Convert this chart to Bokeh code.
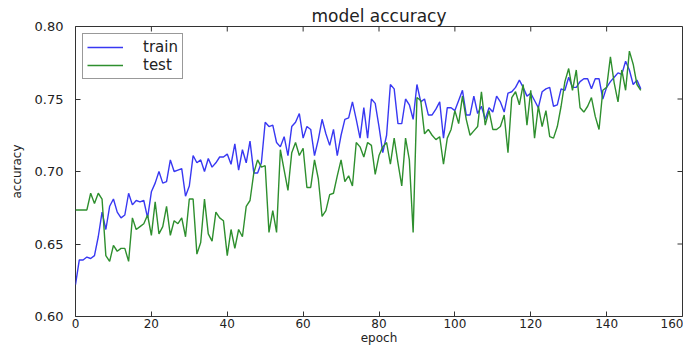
import math
from bokeh.plotting import figure
from bokeh.models import FixedTicker, PrintfTickFormatter
from bokeh.embed import file_html
from bokeh.resources import INLINE

epochs = list(range(150))

train = [
    0.622, 0.639, 0.639, 0.641, 0.640, 0.642, 0.655, 0.672, 0.660, 0.676,
    0.681, 0.672, 0.668, 0.670, 0.685, 0.677, 0.680, 0.679, 0.680, 0.668,
    0.686, 0.692, 0.700, 0.692, 0.693, 0.708, 0.700, 0.701, 0.702, 0.683,
    0.690, 0.711, 0.706, 0.708, 0.700, 0.709, 0.703, 0.706, 0.710, 0.710,
    0.712, 0.705, 0.719, 0.701, 0.715, 0.706, 0.721, 0.699, 0.699, 0.706,
    0.734, 0.731, 0.732, 0.720, 0.717, 0.724, 0.711, 0.731, 0.734, 0.740,
    0.723, 0.731, 0.729, 0.711, 0.722, 0.736, 0.726, 0.718, 0.729, 0.711,
    0.725, 0.736, 0.737, 0.748, 0.736, 0.723, 0.744, 0.723, 0.750, 0.747,
    0.731, 0.713, 0.725, 0.760, 0.757, 0.733, 0.733, 0.750, 0.746, 0.736,
    0.760, 0.748, 0.750, 0.739, 0.739, 0.743, 0.748, 0.723, 0.744, 0.744,
    0.742, 0.749, 0.756, 0.739, 0.739, 0.752, 0.740, 0.745, 0.736, 0.744,
    0.741, 0.752, 0.748, 0.741, 0.754, 0.755, 0.758, 0.763, 0.758, 0.752,
    0.754, 0.749, 0.744, 0.755, 0.757, 0.758, 0.745, 0.746, 0.757, 0.756,
    0.765, 0.758, 0.758, 0.762, 0.764, 0.764, 0.757, 0.764, 0.764, 0.750,
    0.758, 0.762, 0.765, 0.768, 0.767, 0.776, 0.770, 0.760, 0.763, 0.757,
]

test = [
    0.6735, 0.6735, 0.6735, 0.6735, 0.685, 0.678, 0.685, 0.681, 0.642, 0.638,
    0.649, 0.645, 0.647, 0.647, 0.638, 0.668, 0.660, 0.662, 0.664, 0.670,
    0.656, 0.679, 0.657, 0.662, 0.676, 0.656, 0.666, 0.664, 0.668, 0.655,
    0.681, 0.681, 0.643, 0.651, 0.681, 0.657, 0.652, 0.672, 0.668, 0.666,
    0.642, 0.660, 0.647, 0.660, 0.655, 0.676, 0.680, 0.699, 0.708, 0.703,
    0.704, 0.658, 0.673, 0.658, 0.715, 0.701, 0.687, 0.713, 0.720, 0.711,
    0.716, 0.689, 0.689, 0.708, 0.695, 0.669, 0.673, 0.684, 0.685, 0.697,
    0.708, 0.693, 0.697, 0.690, 0.720, 0.717, 0.710, 0.720, 0.718, 0.698,
    0.711, 0.717, 0.720, 0.705, 0.723, 0.706, 0.690, 0.723, 0.708, 0.658,
    0.751, 0.749, 0.726, 0.729, 0.725, 0.722, 0.724, 0.705, 0.723, 0.729,
    0.742, 0.733, 0.752, 0.736, 0.725, 0.728, 0.731, 0.755, 0.732, 0.742,
    0.729, 0.729, 0.731, 0.739, 0.713, 0.751, 0.755, 0.746, 0.760, 0.732,
    0.756, 0.723, 0.745, 0.731, 0.742, 0.724, 0.723, 0.731, 0.745, 0.762,
    0.771, 0.756, 0.770, 0.744, 0.741, 0.745, 0.751, 0.738, 0.729, 0.756,
    0.758, 0.779, 0.761, 0.748, 0.770, 0.756, 0.783, 0.774, 0.760, 0.756,
]

x_ticks = [0, 20, 40, 60, 80, 100, 120, 140, 160]
y_ticks = [0.60, 0.65, 0.70, 0.75, 0.80]
x_min, x_max = 0, 160
y_min, y_max = 0.60, 0.80

FONT = "DejaVu Sans"
EDGE = "#333333"
TXT = "#222222"

p = figure(width=683, height=347, x_range=(x_min, x_max), y_range=(y_min, y_max),
           output_backend="svg", toolbar_location=None, title="model accuracy",
           min_border_left=75, min_border_right=1, min_border_top=26,
           min_border_bottom=29)

p.title.text_font = FONT
p.title.text_font_size = "17px"
p.title.text_font_style = "normal"
p.title.text_color = TXT
p.title.align = "center"
p.title.standoff = 2

p.grid.visible = False
p.outline_line_color = EDGE
p.outline_line_width = 1
p.background_fill_color = "white"
p.border_fill_color = "white"

for ax in (p.xaxis[0], p.yaxis[0]):
    ax.axis_line_color = None
    ax.major_tick_in = 5
    ax.major_tick_out = 0
    ax.major_tick_line_color = EDGE
    ax.minor_tick_line_color = None
    ax.major_label_text_font = FONT
    ax.major_label_text_color = TXT
    ax.axis_label_text_font = FONT
    ax.axis_label_text_font_style = "normal"
    ax.axis_label_text_color = TXT

xa = p.xaxis[0]
xa.ticker = FixedTicker(ticks=x_ticks)
xa.axis_label = "epoch"
xa.major_label_text_font_size = "12px"
xa.axis_label_text_font_size = "12px"
xa.major_label_standoff = 2
xa.axis_label_standoff = 0

ya = p.yaxis[0]
ya.ticker = FixedTicker(ticks=y_ticks)
ya.formatter = PrintfTickFormatter(format="%.2f")
ya.axis_label = "accuracy"
ya.major_label_text_font_size = "13px"
ya.axis_label_text_font_size = "12px"
ya.major_label_standoff = 12
ya.axis_label_standoff = 8

# inward tick marks on the top and right edges (matplotlib classic style)
p.ray(x=x_ticks, y=[y_max] * len(x_ticks), length=5, length_units="screen",
      angle=-math.pi / 2, line_color=EDGE, line_width=1)
p.ray(x=[x_max] * len(y_ticks), y=y_ticks, length=5, length_units="screen",
      angle=math.pi, line_color=EDGE, line_width=1)

p.line(epochs, train, line_color="#3838f2", line_width=1.4, legend_label="train")
p.line(epochs, test, line_color="#2e8f2e", line_width=1.4, legend_label="test")

lg = p.legend[0]
lg.location = "top_left"
lg.margin = 7
lg.padding = 4
lg.spacing = 0
lg.border_line_color = EDGE
lg.border_line_width = 1
lg.background_fill_alpha = 1
lg.label_text_font = FONT
lg.label_text_font_size = "15px"
lg.label_text_line_height = 0.9
lg.label_text_color = TXT
lg.glyph_width = 36
lg.glyph_height = 14
lg.label_standoff = 20
lg.label_height = 14

open("out.html", "w").write(file_html(p, INLINE))
